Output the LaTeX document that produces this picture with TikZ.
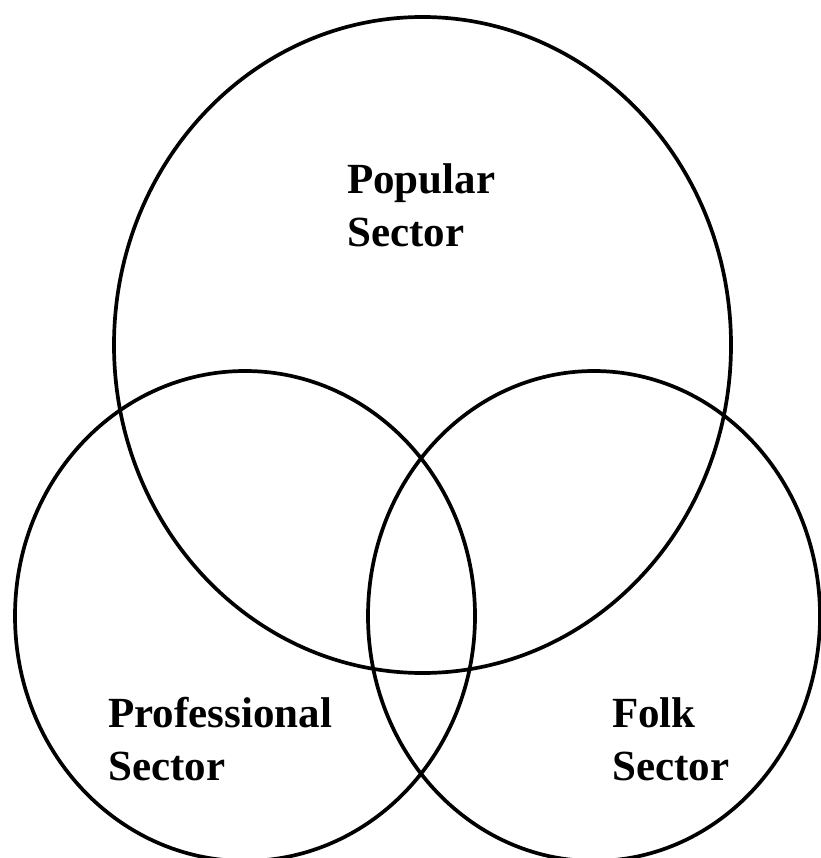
\documentclass[tikz,border=0pt]{standalone}
\usepackage{fontspec}
\setmainfont{Liberation Serif}
\usetikzlibrary{positioning}

\tikzset{
	sector/.style={draw, line width=3.7pt},
	label/.style={anchor=base west, align=left, inner sep=0pt,
		font=\bfseries\fontsize{43}{53}\selectfont}
}

\begin{document}
\begin{tikzpicture}[x=1pt, y=-1pt]
\useasboundingbox (0, 0) rectangle (820, 858);
\coordinate (pop) at (422.5, 345);
\coordinate (pro) at (245, 616);
\coordinate (folk) at (594, 616);
\draw[sector] (pop) ellipse[x radius=308.5, y radius=328];
\draw[sector] (pro) ellipse[x radius=230, y radius=245];
\draw[sector] (folk) ellipse[x radius=226, y radius=245];
% base anchor sits on the last line
\node[label] (poptext) at (347, 247) {Popular\\Sector};
\node[label] (protext) at (108, 780) {Professional\\Sector};
\node[label] (folktext) at (612, 780) {Folk\\Sector};
\end{tikzpicture}
\end{document}
